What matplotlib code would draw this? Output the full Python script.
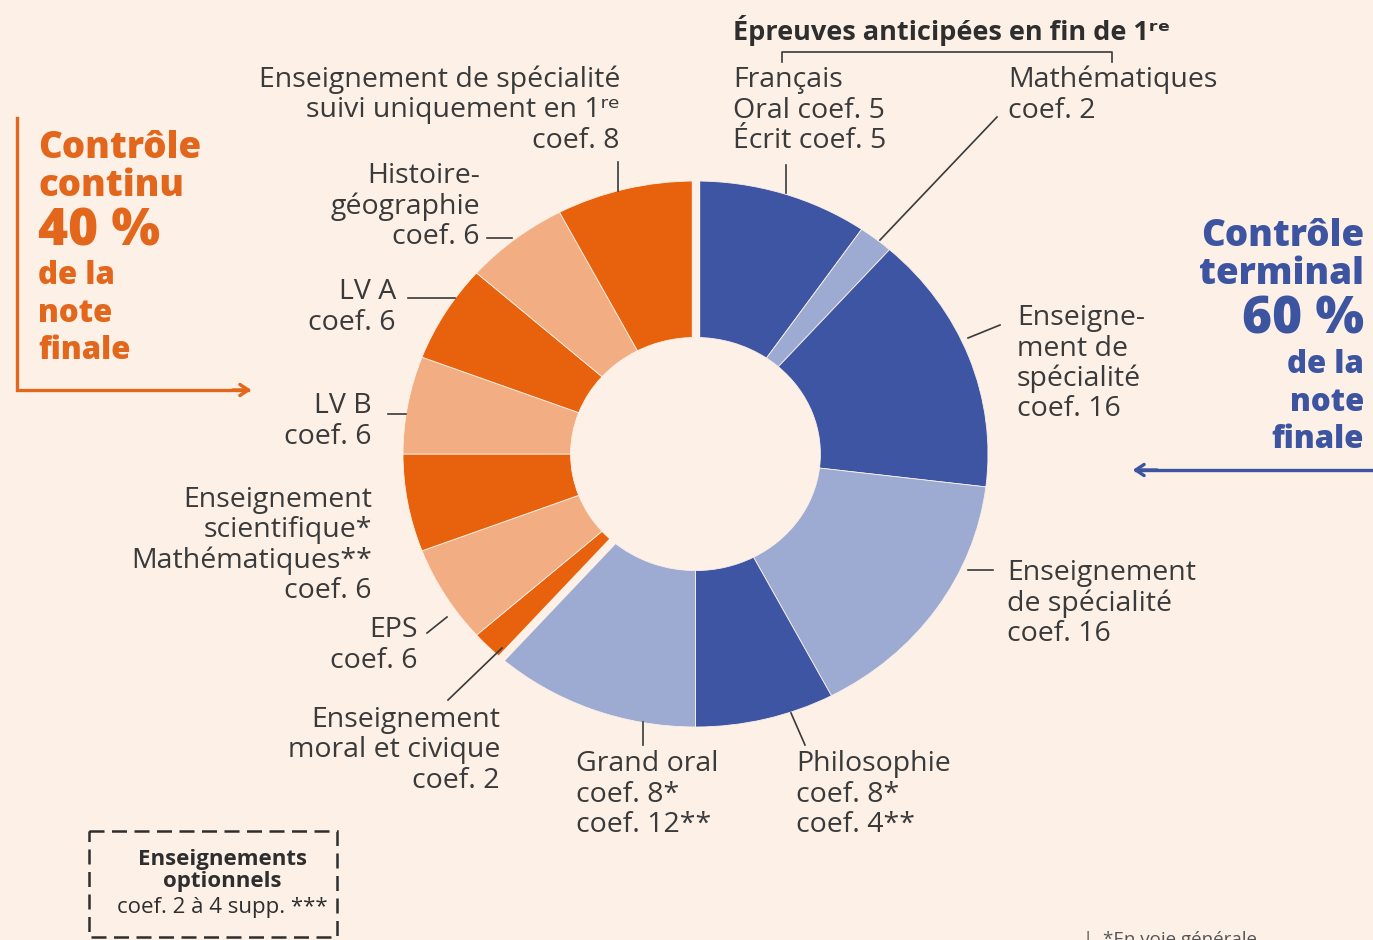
import matplotlib.pyplot as plt
import numpy as np

# Coefficients, clockwise from 12 o'clock
blue_labels = ['Français', 'Mathématiques', 'Spécialité', 'Spécialité', 'Philosophie', 'Grand oral']
blue_coefs = [10, 2, 16, 16, 8, 12]
orange_labels = ['EMC', 'EPS', 'Enseignement scientifique', 'LV B', 'LV A',
                 'Histoire-géographie', 'Spécialité 1re']
orange_coefs = [2, 6, 6, 6, 6, 6, 8]

BG = '#fcf0e7'
DARK_BLUE = '#3d55a2'
LIGHT_BLUE = '#9dabd3'
DARK_OR = '#e8620d'
LIGHT_OR = '#f3ad82'
TXT = '#3a3a3a'
OR_TXT = '#e2661b'
BL_TXT = '#3d55a0'

plt.rcParams['font.family'] = ['Open Sans', 'DejaVu Sans']

W, H = 1373, 940
fig = plt.figure(figsize=(W / 100, H / 100), dpi=100)
fig.patch.set_facecolor(BG)

# donut axes (image is slightly stretched horizontally)
cx, cy, rx, ry = 695.5, 454, 292.5, 273
pax = fig.add_axes([(cx - rx) / W, (H - cy - ry) / H, 2 * rx / W, 2 * ry / H])
values = blue_coefs + orange_coefs
colors = [DARK_BLUE, LIGHT_BLUE] * 3 + [DARK_OR, LIGHT_OR, DARK_OR, LIGHT_OR, DARK_OR, LIGHT_OR, DARK_OR]
pax.pie(values, colors=colors, startangle=90, counterclock=False, radius=1,
        wedgeprops=dict(width=0.573, edgecolor=BG, linewidth=0.6))
total = sum(values)
for cum in [0, sum(blue_coefs)]:
    a = np.deg2rad(90 - 360 * cum / total)
    pax.plot([0, 1.05 * np.cos(a)], [0, 1.05 * np.sin(a)], color=BG, lw=6, solid_capstyle='butt')
pax.set_aspect('auto')
pax.set_xlim(-1, 1)
pax.set_ylim(-1, 1)
pax.axis('off')

# overlay in pixel coordinates for labels
ax = fig.add_axes([0, 0, 1, 1])
ax.set_xlim(0, W)
ax.set_ylim(H, 0)
ax.axis('off')
ax.patch.set_alpha(0)

FS = 20.5
STEP = 30.5


def label(x, y, lines, ha='left', step=STEP, **kw):
    for i, s in enumerate(lines):
        ax.text(x, y + i * step, s, ha=ha, va='center', fontsize=FS, color=TXT, **kw)


def leader(xs, ys):
    ax.plot(xs, ys, color='#3a3a3a', lw=1.2)


# header
ax.text(733, 30, 'Épreuves anticipées en fin de 1ʳᵉ', ha='left', va='center',
        fontsize=19.5, fontweight='bold', color='#2e2e2e')
leader([782, 782, 1112, 1112], [62, 52, 52, 62])

label(733, 80, ['Français', 'Oral coef. 5', 'Écrit coef. 5'])
leader([786, 786], [165, 193])
label(1008, 80, ['Mathématiques', 'coef. 2'])
leader([997, 880], [117, 240])

label(620, 80, ['Enseignement de spécialité', 'suivi uniquement en 1ʳᵉ', 'coef. 8'], ha='right')
leader([618, 618], [162, 191])
label(480, 176, ['Histoire-', 'géographie', 'coef. 6'], ha='right')
leader([487, 512], [238, 238])
label(396, 292, ['LV A', 'coef. 6'], ha='right')
leader([408, 455], [298, 298])
label(372, 406, ['LV B', 'coef. 6'], ha='right')
leader([388, 406], [414, 414])
label(372, 500, ['Enseignement', 'scientifique*', 'Mathématiques**', 'coef. 6'], ha='right')
label(418, 630, ['EPS', 'coef. 6'], ha='right')
leader([427, 447], [633, 617])
label(500, 720, ['Enseignement', 'moral et civique', 'coef. 2'], ha='right')
leader([448, 502], [700, 648])

label(576, 764, ['Grand oral', 'coef. 8*', 'coef. 12**'])
leader([643, 643], [745, 722])
label(796, 764, ['Philosophie', 'coef. 8*', 'coef. 4**'])
leader([805, 791], [745, 713])
label(1007, 573, ['Enseignement', 'de spécialité', 'coef. 16'])
leader([993, 968], [570, 570])
label(1017, 318, ['Enseigne-', 'ment de', 'spécialité', 'coef. 16'])
leader([1000, 968], [325, 338])

# contrôle continu (left)
for s, y, fs in [('Contrôle', 148, 26.5), ('continu', 186, 26.5), ('40 %', 232, 37),
                 ('de la', 276, 22.5), ('note', 314, 22.5), ('finale', 351, 22.5)]:
    ax.text(38, y, s, ha='left', va='center', fontsize=fs, fontweight='heavy', color=OR_TXT)
ax.plot([17, 17, 248], [118, 390, 390], color=OR_TXT, lw=2.4, solid_joinstyle='miter')
ax.annotate('', xy=(254, 390), xytext=(230, 390),
            arrowprops=dict(arrowstyle='->,head_length=0.6,head_width=0.4', color=OR_TXT, lw=2.4))

# contrôle terminal (right)
for s, y, fs in [('Contrôle', 237, 26.5), ('terminal', 275, 26.5), ('60 %', 320, 37),
                 ('de la', 365, 22.5), ('note', 403, 22.5), ('finale', 440, 22.5)]:
    ax.text(1364, y, s, ha='right', va='center', fontsize=fs, fontweight='heavy', color=BL_TXT)
ax.plot([1373, 1136], [470, 470], color=BL_TXT, lw=2.4)
ax.annotate('', xy=(1130, 470), xytext=(1160, 470),
            arrowprops=dict(arrowstyle='->,head_length=0.6,head_width=0.4', color=BL_TXT, lw=2.4))

# optional courses box
ax.add_patch(plt.Rectangle((89, 831), 248, 106, fill=False, ec='#2e2e2e', lw=1.8,
                           ls=(0, (6, 3))))
ax.text(222, 859, 'Enseignements', ha='center', va='center', fontsize=16, fontweight='bold', color='#2e2e2e')
ax.text(222, 882, 'optionnels', ha='center', va='center', fontsize=16, fontweight='bold', color='#2e2e2e')
ax.text(222, 907, 'coef. 2 à 4 supp. ***', ha='center', va='center', fontsize=16,
        fontweight='medium', color='#2e2e2e')

# footnote cut off at the bottom, as in the source
ax.text(1083, 931, '|  *En voie générale', ha='left', va='top', fontsize=13.5, color='#555555')

fig.savefig('out.png', dpi=100, facecolor=BG)
